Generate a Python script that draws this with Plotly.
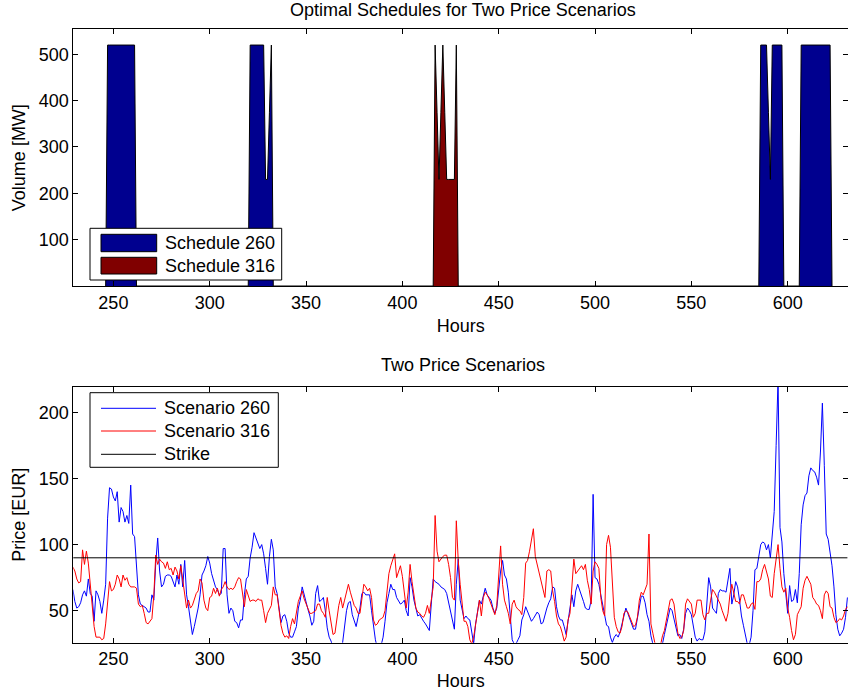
import plotly.graph_objects as go

# ---------------- data ----------------
FIRST_HOUR = 229

# hourly price paths (EUR), hours 229 .. 631
scenario_260 = [
    66, 57, 52, 53, 56, 62, 65, 61, 74, 63,
    61, 42, 65, 62, 57, 48, 58, 70, 120, 143,
    142, 136, 133, 140, 117, 128, 125, 117, 122, 116,
    145, 108, 106, 80, 62, 55, 54, 53, 52, 49,
    49, 62, 58, 86, 105, 80, 68, 70, 76, 77,
    77, 76, 72, 68, 77, 70, 85, 68, 88, 62,
    53, 43, 32, 38, 45, 52, 62, 77, 80, 84,
    91, 86, 78, 72, 68, 66, 62, 63, 97, 97,
    62, 48, 52, 50, 42, 41, 37, 43, 43, 62,
    74, 76, 90, 98, 109, 105, 101, 97, 100, 93,
    82, 70, 91, 104, 96, 68, 63, 53, 41, 46,
    47, 42, 33, 30, 30, 34, 38, 52, 58, 68,
    62, 55, 51, 46, 39, 42, 63, 69, 57, 58,
    60, 50, 37, 30, 27, 22, 20, 18, 20, 22,
    26, 40, 50, 56, 57, 47, 43, 38, 45, 52,
    63, 64, 62, 62, 62, 50, 38, 28, 22, 20,
    24, 30, 42, 56, 63, 70, 66, 66, 60, 57,
    55, 56, 58, 50, 46, 75, 68, 58, 52, 46,
    47, 44, 42, 40, 37, 35, 55, 74, 72, 71,
    70, 68, 67, 66, 63, 56, 48, 42, 36, 70,
    89, 58, 52, 44, 46, 44, 43, 33, 25, 40,
    48, 58, 55, 62, 67, 62, 60, 58, 52, 48,
    52, 68, 80, 88, 77, 74, 64, 46, 28, 25,
    25, 28, 31, 43, 47, 53, 49, 45, 42, 44,
    47, 49, 47, 40, 41, 47, 52, 56, 59, 68,
    67, 53, 46, 43, 43, 38, 32, 42, 52, 62,
    53, 65, 70, 66, 61, 57, 52, 51, 51, 58,
    138, 75, 74, 70, 62, 55, 46, 39, 38, 30,
    26, 30, 32, 30, 34, 40, 48, 52, 48, 44,
    39, 36, 36, 44, 52, 61, 61, 56, 47, 42,
    31, 25, 22, 20, 20, 22, 25, 32, 38, 46,
    52, 50, 43, 36, 31, 32, 29, 36, 48, 52,
    50, 47, 38, 30, 27, 29, 28, 28, 34, 55,
    75, 68, 52, 50, 48, 63, 66, 65, 65, 64,
    75, 82, 55, 62, 72, 68, 58, 46, 39, 33,
    25, 24, 30, 50, 81, 82, 90, 100, 102, 101,
    96, 100, 90, 105, 125, 175, 225, 113, 102, 78,
    62, 48, 69, 57, 58, 66, 56, 78, 115, 130,
    137, 139, 152, 158, 156, 155, 151, 145, 170, 207,
    160, 108, 104, 94, 84, 68, 47, 36, 31, 33,
    36, 45, 60,
]

scenario_316 = [
    83, 80, 74, 71, 72, 96, 85, 95, 86, 68,
    50, 38, 30, 30, 30, 28, 29, 40, 55, 72,
    65, 66, 70, 77, 74, 68, 77, 73, 75, 70,
    68, 68, 68, 67, 55, 53, 54, 48, 41, 40,
    42, 44, 62, 92, 85, 89, 87, 86, 82, 87,
    81, 82, 77, 83, 80, 74, 84, 73, 61, 52,
    58, 52, 54, 58, 63, 65, 74, 71, 58, 52,
    50, 60, 61, 67, 63, 67, 61, 66, 68, 72,
    68, 66, 67, 66, 68, 72, 75, 74, 64, 53,
    66, 62, 57, 58, 58, 57, 59, 58, 58, 50,
    41, 48, 51, 54, 68, 62, 62, 48, 39, 33,
    30, 31, 29, 38, 44, 40, 48, 57, 61, 65,
    59, 55, 52, 48, 48, 49, 50, 55, 55, 50,
    48, 45, 60, 50, 42, 32, 33, 46, 54, 60,
    52, 58, 64, 70, 64, 59, 54, 52, 48, 48,
    60, 70, 68, 65, 67, 60, 43, 39, 40, 43,
    44, 45, 50, 66, 78, 84, 88, 93, 75, 80,
    84, 76, 64, 52, 64, 85, 72, 60, 52, 49,
    48, 46, 45, 48, 54, 48, 57, 68, 122, 95,
    87, 89, 91, 92, 92, 85, 75, 60, 58, 118,
    88, 70, 55, 42, 42, 38, 28, 25, 30, 40,
    50, 58, 46, 60, 64, 62, 59, 55, 51, 47,
    54, 73, 99, 70, 58, 53, 48, 40, 55, 58,
    53, 51, 50, 47, 60, 86, 88, 95, 104, 112,
    91, 85, 77, 71, 66, 60, 80, 81, 80, 65,
    57, 46, 40, 38, 33, 27, 30, 43, 48, 70,
    89, 78, 80, 82, 84, 81, 85, 73, 66, 55,
    80, 87, 85, 82, 60, 50, 46, 100, 107, 98,
    73, 45, 38, 34, 33, 38, 48, 50, 49, 45,
    41, 38, 39, 45, 58, 64, 62, 66, 70, 108,
    40, 33, 26, 24, 23, 24, 31, 35, 43, 52,
    58, 59, 55, 43, 33, 29, 30, 35, 55, 59,
    57, 55, 45, 48, 58, 58, 58, 47, 43, 48,
    48, 58, 66, 64, 61, 58, 55, 50, 45, 42,
    48, 62, 70, 62, 57, 57, 55, 62, 62, 57,
    52, 52, 55, 56, 51, 72, 72, 74, 81, 85,
    80, 74, 61, 60, 78, 90, 100, 82, 68, 64,
    67, 52, 45, 35, 28, 32, 47, 50, 53, 67,
    73, 76, 73, 70, 60, 58, 55, 54, 50, 44,
    62, 65, 63, 53, 52, 45, 41, 42, 44, 43,
    46, 51, 53,
]

STRIKE = 90

# dispatch schedules (MW): hours and volumes of each operating block
schedule_260_hours = [
    246, 247, 248, 249, 250, 251, 252, 253, 254, 255, 256, 257, 258, 259, 260, 261, 262,
    320, 321, 322, 323, 324, 325, 326, 327, 328, 329, 330, 331, 332, 333,
    585, 586, 587, 588, 589, 590, 591, 592, 593, 594, 595, 596, 597, 598,
    606, 607, 608, 609, 610, 611, 612, 613, 614, 615, 616, 617, 618, 619, 620, 621, 622, 623,
]
schedule_260_mw = [
    0, 520, 520, 520, 520, 520, 520, 520, 520, 520, 520, 520, 520, 520, 520, 520, 0,
    0, 520, 520, 520, 520, 520, 520, 520, 520, 230, 230, 375, 520, 0,
    0, 520, 520, 520, 520, 375, 230, 520, 520, 520, 520, 520, 520, 0,
    0, 520, 520, 520, 520, 520, 520, 520, 520, 520, 520, 520, 520, 520, 520, 520, 520, 0,
]
schedule_316_hours = [416, 417, 418, 419, 420, 421, 422, 423, 424, 425, 426, 427, 428, 429]
schedule_316_mw = [0, 520, 375, 230, 375, 520, 375, 230, 230, 230, 230, 230, 520, 0]

hour_ticks = [250, 300, 350, 400, 450, 500, 550, 600]
volume_ticks = [100, 200, 300, 400, 500]
price_ticks = [50, 100, 150, 200]

# ---------------- styling ----------------
W, H = 848, 694
FONT = "Liberation Sans, Arial, Helvetica, sans-serif"
FS = 18
NAVY = "#00008F"
MAROON = "#800000"


def px(x):
    return x / W


def py(y):
    return 1 - y / H


hours = list(range(FIRST_HOUR, FIRST_HOUR + len(scenario_260)))

fig = go.Figure()

fig.add_trace(go.Scatter(
    x=schedule_260_hours, y=schedule_260_mw, name="Schedule 260",
    mode="lines", fill="tozeroy", fillcolor=NAVY,
    line=dict(color="black", width=1), xaxis="x", yaxis="y", showlegend=False,
))
fig.add_trace(go.Scatter(
    x=schedule_316_hours, y=schedule_316_mw, name="Schedule 316",
    mode="lines", fill="tozeroy", fillcolor=MAROON,
    line=dict(color="black", width=1), xaxis="x", yaxis="y", showlegend=False,
))

fig.add_trace(go.Scatter(
    x=hours, y=scenario_260, name="Scenario 260", mode="lines",
    line=dict(color="#0000FF", width=1), xaxis="x2", yaxis="y2", showlegend=False,
))
fig.add_trace(go.Scatter(
    x=hours, y=scenario_316, name="Scenario 316", mode="lines",
    line=dict(color="#FF0000", width=1), xaxis="x2", yaxis="y2", showlegend=False,
))
fig.add_trace(go.Scatter(
    x=[hours[0], hours[-1]], y=[STRIKE, STRIKE], name="Strike", mode="lines",
    line=dict(color="black", width=1), xaxis="x2", yaxis="y2", showlegend=False,
))

axis_common = dict(
    showline=True, linecolor="black", linewidth=1, mirror="ticks",
    ticks="inside", ticklen=5, tickwidth=1, tickcolor="black",
    showgrid=False, zeroline=False,
    tickfont=dict(family=FONT, size=FS, color="black"),
    title_font=dict(family=FONT, size=FS, color="black"),
)

x_dom = [px(73.3), 1.0]
x_range = [229.2, 631.3]

fig.update_layout(
    width=W, height=H,
    margin=dict(l=0, r=0, t=0, b=0),
    paper_bgcolor="white", plot_bgcolor="white",
    font=dict(family=FONT, size=FS, color="black"),
    xaxis=dict(domain=x_dom, range=x_range, tickvals=hour_ticks, anchor="y",
               title=dict(text="Hours", standoff=7), **axis_common),
    yaxis=dict(domain=[py(286), py(29.3)], range=[0, 554], tickvals=volume_ticks,
               anchor="x", title=dict(text="Volume [MW]", standoff=8), **axis_common),
    xaxis2=dict(domain=x_dom, range=x_range, tickvals=hour_ticks, anchor="y2",
                title=dict(text="Hours", standoff=6), **axis_common),
    yaxis2=dict(domain=[py(642.7), py(386.7)], range=[25.8, 219.4], tickvals=price_ticks,
                anchor="x2", title=dict(text="Price [EUR]", standoff=8), **axis_common),
)

# panel titles
for text, yc in [("Optimal Schedules for Two Price Scenarios", 10.5),
                 ("Two Price Scenarios", 365)]:
    fig.add_annotation(text=text, x=px(463), y=py(yc), xref="paper", yref="paper",
                       xanchor="center", yanchor="middle", showarrow=False,
                       font=dict(family=FONT, size=FS, color="black"))

# legend of the schedule panel
fig.add_shape(type="rect", xref="paper", yref="paper",
              x0=px(90), x1=px(281.7), y0=py(280), y1=py(228.3),
              line=dict(color="black", width=1), fillcolor="white", layer="above")
for label, color, y0, y1 in [("Schedule 260", NAVY, 234.3, 251.7),
                             ("Schedule 316", MAROON, 257.3, 274.0)]:
    fig.add_shape(type="rect", xref="paper", yref="paper",
                  x0=px(101), x1=px(156.7), y0=py(y1), y1=py(y0),
                  line=dict(color="black", width=1), fillcolor=color, layer="above")
    fig.add_annotation(text=label, x=px(162.5), y=py((y0 + y1) / 2), xref="paper",
                       yref="paper", xanchor="left", yanchor="middle", showarrow=False,
                       font=dict(family=FONT, size=FS, color="black"))

# legend of the price panel
fig.add_shape(type="rect", xref="paper", yref="paper",
              x0=px(90), x1=px(278.3), y0=py(467.3), y1=py(392.7),
              line=dict(color="black", width=1), fillcolor="white", layer="above")
for label, color, yc in [("Scenario 260", "#0000FF", 408.3),
                         ("Scenario 316", "#FF0000", 431.0),
                         ("Strike", "black", 454.3)]:
    fig.add_shape(type="line", xref="paper", yref="paper",
                  x0=px(101), x1=px(156), y0=py(yc), y1=py(yc),
                  line=dict(color=color, width=1), layer="above")
    fig.add_annotation(text=label, x=px(162.3), y=py(yc), xref="paper",
                       yref="paper", xanchor="left", yanchor="middle", showarrow=False,
                       font=dict(family=FONT, size=FS, color="black"))

fig.write_html("out.html")
